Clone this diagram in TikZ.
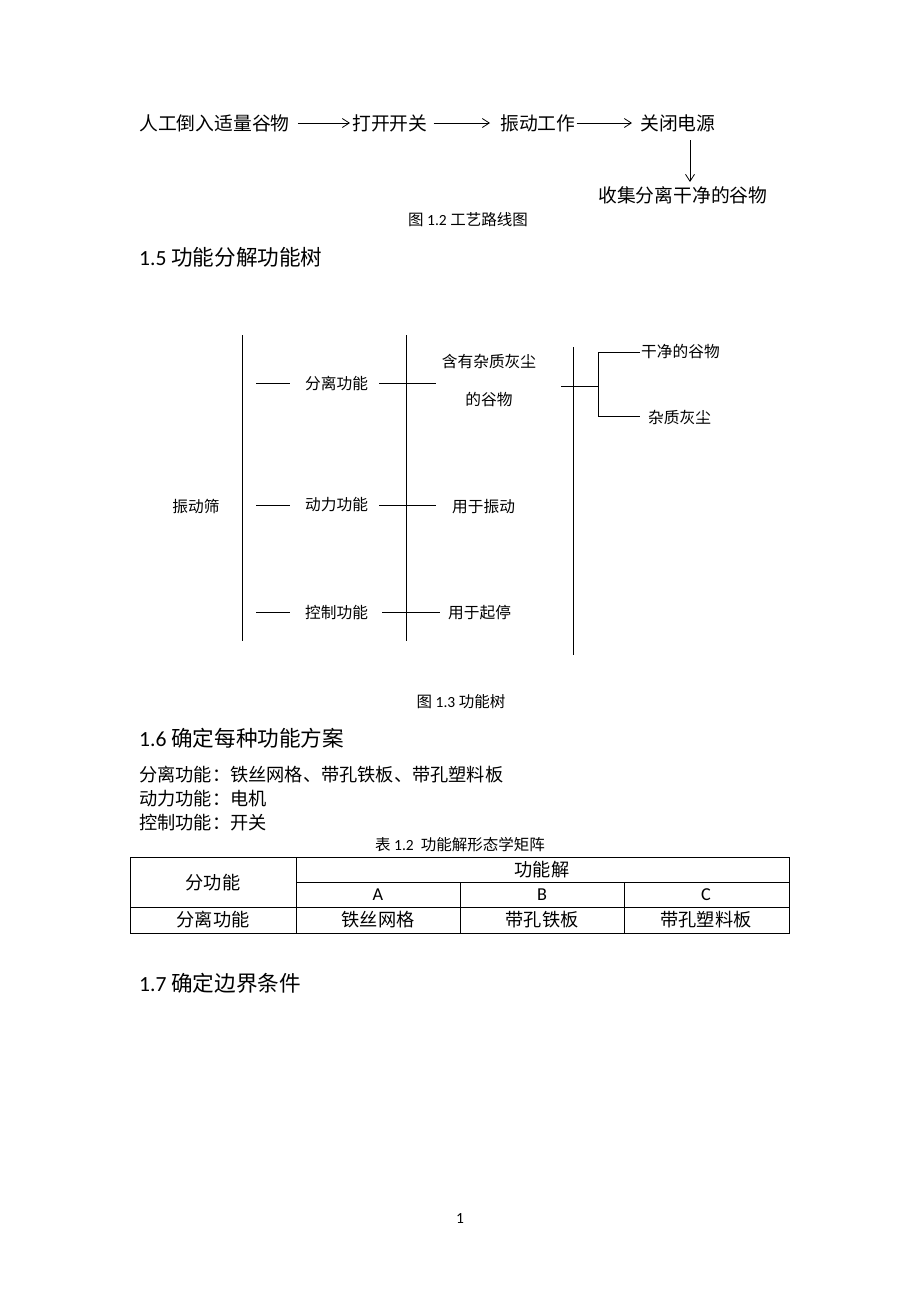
\documentclass[tikz,border=0pt]{standalone}
\usepackage{fontspec}
\setmainfont{Noto Sans CJK SC}
\newfontfamily\lat{Carlito}
\usetikzlibrary{arrows.meta}
\begin{document}
\begin{tikzpicture}[x=1pt,y=-1pt,
  flow/.style={inner sep=0pt,font=\fontsize{18.8}{22}\selectfont},
  tree/.style={inner sep=0pt,font=\fontsize{15.7}{18}\selectfont},
  head/.style={inner sep=0pt,anchor=west,font=\fontsize{21.6}{26}\selectfont},
  body/.style={inner sep=0pt,anchor=west,font=\fontsize{18.2}{22}\selectfont},
  captxt/.style={inner sep=0pt,font=\fontsize{15.5}{18}\selectfont},
  cell/.style={inner sep=0pt,font=\fontsize{18.2}{22}\selectfont},
  arr/.style={-{Straight Barb[length=7pt,width=9pt]},line width=0.8pt},
  ln/.style={line width=0.9pt},
  tl/.style={line width=0.8pt}]
\useasboundingbox (0,0) rectangle (920,1302);
\fill[white] (0,0) rectangle (920,1302);

% ---- flow chart
\node[flow,anchor=west] (f1) at (139,123) {人工倒入适量谷物};
\node[flow,anchor=west] (f2) at (352,123) {打开开关};
\node[flow,anchor=west] (f3) at (500,123) {振动工作};
\node[flow,anchor=west] (f4) at (640,123) {关闭电源};
\node[flow,anchor=west] (f5) at (598,195) {收集分离干净的谷物};
\draw[arr] (f1.east) ++(8,0) -- ([xshift=-2pt]f2.west);
\draw[arr] (f2.east) ++(6,0) -- ([xshift=-10pt]f3.west);
\draw[arr] (f3.east) ++(1,0) -- ([xshift=-8pt]f4.west);
\coordinate (d1) at (690,140);
\draw[arr] (d1) -- (690,182);
\node[captxt] (c12) at (468,220) {图 {\lat 1.2} 工艺路线图};

\node[head] (h15) at (139,257) {{\lat 1.5} 功能分解功能树};

% ---- function tree
\coordinate (v1t) at (242,335); \coordinate (v1b) at (242,641);
\coordinate (v2t) at (406,335); \coordinate (v2b) at (406,641);
\coordinate (v3t) at (573,347); \coordinate (v3b) at (573,655);
\draw[tl] (v1t) -- (v1b);
\draw[tl] (v2t) -- (v2b);
\draw[tl] (v3t) -- (v3b);

\node[tree] (root) at (196,507) {振动筛};
\node[tree,anchor=west] (a1) at (305,383) {分离功能};
\node[tree,anchor=west] (a2) at (305,505) {动力功能};
\node[tree,anchor=west] (a3) at (305,613) {控制功能};
\draw[tl] (256,383) -- (290,383);
\draw[tl] (256,505) -- (290,505);
\draw[tl] (256,612) -- (290,612);

\node[tree,align=center] (b1) at (489,381) {含有杂质灰尘\\[20pt]的谷物};
\node[tree,anchor=west] (b2) at (452,507) {用于振动};
\node[tree,anchor=west] (b3) at (448,613) {用于起停};
\draw[tl] (379,383) -- (436,383);
\draw[tl] (379,505) -- (436,505);
\draw[tl] (382,612) -- (440,612);

\draw[tl] (561,386) -- (598,386);
\coordinate (br) at (598,386);
\draw[tl] (640,352) -- (598,352) -- (598,416) -- (640,416);
\node[tree,anchor=west] (c1) at (641,352) {干净的谷物};
\node[tree,anchor=west] (c2) at (648,418) {杂质灰尘};

\node[captxt] (c13) at (461,702) {图 {\lat 1.3} 功能树};

% ---- 1.6
\node[head] (h16) at (139,738) {{\lat 1.6} 确定每种功能方案};
\node[body] (t1) at (139,775) {分离功能：铁丝网格、带孔铁板、带孔塑料板};
\node[body] (t2) at (139,799) {动力功能：电机};
\node[body] (t3) at (139,823) {控制功能：开关};
\node[captxt] (t12) at (460,845) {表 {\lat 1.2}\ \ 功能解形态学矩阵};

% ---- table
\draw[ln] (130,857) rectangle (789,933);
\draw[ln] (296,882) -- (789,882);
\draw[ln] (130,907) -- (789,907);
\draw[ln] (296,857) -- (296,933);
\draw[ln] (460,882) -- (460,933);
\draw[ln] (624,882) -- (624,933);
\node[cell] (k0) at (213,883) {分功能};
\node[cell] (k1) at (542,870) {功能解};
\node[cell] (kA) at (378,895) {\lat A};
\node[cell] (kB) at (542,895) {\lat B};
\node[cell] (kC) at (706,895) {\lat C};
\node[cell] (r0) at (213,920) {分离功能};
\node[cell] (r1) at (378,920) {铁丝网格};
\node[cell] (r2) at (542,920) {带孔铁板};
\node[cell] (r3) at (706,920) {带孔塑料板};

% ---- 1.7
\node[head] (h17) at (139,983) {{\lat 1.7} 确定边界条件};
\node[captxt] (pg) at (460,1218) {\lat 1};
\end{tikzpicture}
\end{document}
